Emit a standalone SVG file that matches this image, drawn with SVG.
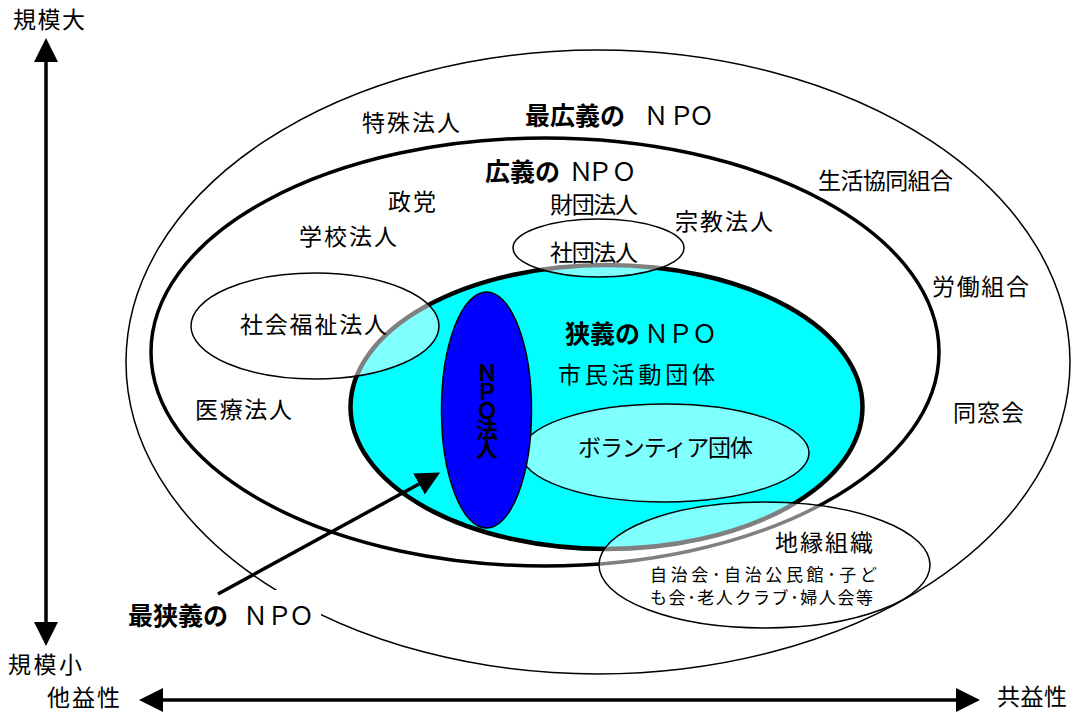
<svg xmlns="http://www.w3.org/2000/svg" width="1071" height="712" viewBox="0 0 1071 712">
<defs>
<style>
text{font-family:"Noto Sans CJK JP","Noto Sans CJK SC",sans-serif;fill:#000}
.lb{font-size:23px}
.ti{font-size:25px;font-weight:bold}
.lat{font-weight:normal}
.sm{font-size:17px}
.thin{fill:none;stroke:#000;stroke-width:1.5}
.sub{fill:#fff;fill-opacity:0.5;stroke:#000;stroke-width:1.5}
.ax{stroke:#000;stroke-width:3.5;fill:none}
</style>
<marker id="ah" markerUnits="userSpaceOnUse" viewBox="0 0 24 24" markerWidth="24" markerHeight="24" refX="0" refY="12" orient="auto-start-reverse"><path d="M0,0 L24,12 L0,24 z" fill="#000"/></marker>
</defs>
<rect width="1071" height="712" fill="#fff"/>
<g id="n-saikougi">
<ellipse cx="598" cy="362" rx="472" ry="312" class="thin"/>
<text class="ti" x="525" y="125">最広義の<tspan class="lat" x="643.5 669 689">ＮＰＯ</tspan></text>
</g>
<g id="n-kougi">
<ellipse cx="545" cy="352" rx="394" ry="214" fill="none" stroke="#000" stroke-width="3.5"/>
<text class="ti" x="485" y="181">広義の<tspan class="lat" x="568.5 587.5 611.5">ＮＰＯ</tspan></text>
</g>
<g id="n-kyougi">
<ellipse cx="606.5" cy="407" rx="256" ry="142" fill="#00ffff" stroke="#000" stroke-width="4.5"/>
<text class="ti" x="565" y="343">狭義の<tspan class="lat" x="644 668 692">ＮＰＯ</tspan></text>
<text class="lb" x="558" y="383" textLength="157">市民活動団体</text>
</g>
<g id="n-volunteer">
<ellipse cx="665" cy="453" rx="144" ry="49" class="sub"/>
<text class="lb" x="578" y="456" textLength="175">ボランティア団体</text>
</g>
<g id="n-npohojin">
<ellipse cx="486.5" cy="410" rx="45" ry="118" fill="#0000ff" stroke="#000" stroke-width="1.5"/>
<text x="487" y="362" font-size="22" font-weight="bold" writing-mode="vertical-rl" letter-spacing="-3">ＮＰＯ法人</text>
</g>
<g id="n-shakaifukushi">
<ellipse cx="315" cy="326" rx="124" ry="53" class="sub"/>
<text class="lb" x="240" y="333" textLength="147">社会福祉法人</text>
</g>
<g id="n-shadan">
<ellipse cx="598.5" cy="248" rx="85.5" ry="29" class="sub"/>
<text class="lb" x="550" y="261" font-size="21" textLength="88">社団法人</text>
</g>
<g id="n-chien">
<ellipse cx="764.5" cy="565" rx="165.5" ry="63" class="sub"/>
<text class="lb" x="775" y="551" textLength="98">地縁組織</text>
<text class="sm" x="650" y="581" textLength="227">自治会･自治公民館･子ど</text>
<text class="sm" x="650" y="604" textLength="223">も会･老人クラブ･婦人会等</text>
</g>
<g id="l-tokushu"><text class="lb" x="362" y="131" textLength="98">特殊法人</text></g>
<g id="l-seito"><text class="lb" x="388" y="210" textLength="48">政党</text></g>
<g id="l-gakko"><text class="lb" x="299" y="245" textLength="98">学校法人</text></g>
<g id="l-zaidan"><text class="lb" x="550" y="213" font-size="21" textLength="88">財団法人</text></g>
<g id="l-shukyo"><text class="lb" x="675" y="230" textLength="98">宗教法人</text></g>
<g id="l-seikyo"><text class="lb" x="818" y="189" textLength="135">生活協同組合</text></g>
<g id="l-rodo"><text class="lb" x="932" y="295" textLength="97">労働組合</text></g>
<g id="l-dousou"><text class="lb" x="953" y="421" textLength="71">同窓会</text></g>
<g id="l-iryo"><text class="lb" x="195" y="418" textLength="97">医療法人</text></g>
<g id="l-kibodai"><text class="lb" x="13" y="28" textLength="72">規模大</text></g>
<g id="l-kiboshou"><text class="lb" x="8" y="673" textLength="74">規模小</text></g>
<g id="l-taeki"><text class="lb" x="47" y="706" textLength="73">他益性</text></g>
<g id="l-kyoeki"><text class="lb" x="997" y="705" textLength="70">共益性</text></g>
<g id="n-saikyougi">
<rect x="125" y="590" width="196" height="46" fill="#fff"/>
<text class="ti" font-size="26" x="128" y="625">最狭義の<tspan class="lat" x="243 267 289">ＮＰＯ</tspan></text>
</g>
<g id="connectors">
<line class="ax" x1="46" y1="62" x2="46" y2="622" marker-start="url(#ah)" marker-end="url(#ah)"/>
<line class="ax" x1="163" y1="700" x2="956" y2="700" marker-start="url(#ah)" marker-end="url(#ah)"/>
<line class="ax" x1="218" y1="594" x2="419" y2="484" marker-end="url(#ah)"/>
</g>
</svg>
